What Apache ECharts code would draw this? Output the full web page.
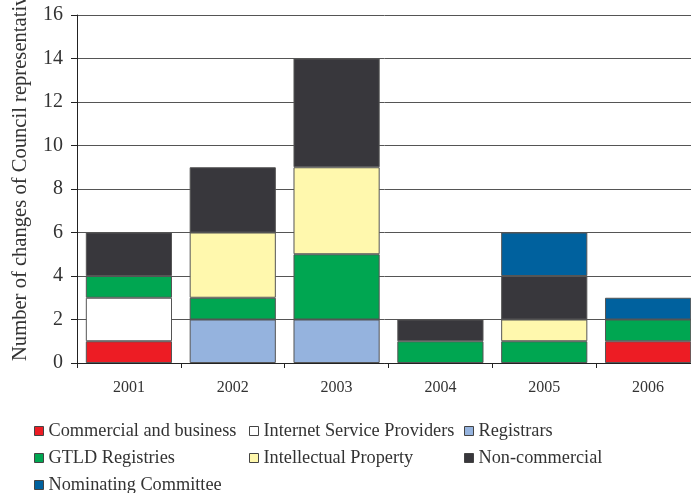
<!DOCTYPE html>
<html>
<head>
<meta charset="utf-8">
<script src="https://cdn.jsdelivr.net/npm/echarts@6/dist/echarts.min.js"></script>
<style>html,body{margin:0;padding:0;background:#fff}#c{width:691px;height:493px}</style>
</head>
<body>
<div id="c"></div>
<script>
var categories = ['2001', '2002', '2003', '2004', '2005', '2006'];
var yTicks = [0, 2, 4, 6, 8, 10, 12, 14, 16];
var seriesNames = ['Commercial and business', 'Internet Service Providers', 'Registrars', 'GTLD Registries', 'Intellectual Property', 'Non-commercial', 'Nominating Committee'];
var commercial = [1, 0, 0, 0, 0, 1];
var isp = [2, 0, 0, 0, 0, 0];
var registrars = [0, 2, 2, 0, 0, 0];
var gtld = [1, 1, 3, 1, 1, 1];
var intellectual = [0, 3, 4, 0, 1, 0];
var noncommercial = [2, 3, 5, 1, 2, 0];
var nominating = [0, 0, 0, 0, 2, 1];
var colors = ['#ED1C24', '#FFFFFF', '#95B3DE', '#00A651', '#FFF8AD', '#38373C', '#00619E'];

var values = [commercial, isp, registrars, gtld, intellectual, noncommercial, nominating];
var FONT = '"Liberation Serif", "Times New Roman", serif';
var TXT = '#333333';

var series = seriesNames.map(function (n, i) {
  return {
    name: n,
    type: 'bar',
    stack: 'total',
    barCategoryGap: '17%',
    data: values[i].map(function (v) { return v === 0 ? '-' : v; }),
    itemStyle: { color: colors[i], borderColor: '#555555', borderWidth: 1 },
    emphasis: { disabled: true }
  };
});

// legend layout: 3 columns x 3 rows
var colX = [34, 249, 464];
var rowY = [421, 448, 475];
var legends = seriesNames.map(function (n, i) {
  return {
    data: [n],
    left: colX[i % 3],
    top: rowY[Math.floor(i / 3)],
    padding: 0,
    itemWidth: 9,
    itemHeight: 9,
    icon: 'rect',
    itemStyle: { borderColor: '#444444', borderWidth: 1 },
    textStyle: { fontFamily: FONT, fontSize: 18.3, color: TXT, lineHeight: 20 },
    selectedMode: false
  };
});

var chart = echarts.init(document.getElementById('c'), null, { renderer: 'canvas' });
chart.setOption({
  animation: false,
  backgroundColor: '#ffffff',
  color: colors,
  grid: { left: 77, top: 15, width: 623, height: 348, containLabel: false, outerBoundsMode: 'none' },
  legend: legends,
  xAxis: {
    type: 'category',
    data: categories,
    axisLine: { show: true, lineStyle: { color: '#222222', width: 1 } },
    axisTick: { show: true, length: 5, alignWithLabel: false, interval: 0, lineStyle: { color: '#222222' } },
    axisLabel: { margin: 17, fontFamily: FONT, fontSize: 16, color: TXT, interval: 0 },
    splitLine: { show: false }
  },
  yAxis: {
    type: 'value',
    min: yTicks[0],
    max: yTicks[yTicks.length - 1],
    interval: yTicks[1] - yTicks[0],
    axisLine: { show: true, lineStyle: { color: '#222222', width: 1 } },
    axisTick: { show: true, length: 6, inside: false, lineStyle: { color: '#222222' } },
    axisLabel: { margin: 14, fontFamily: FONT, fontSize: 20, color: TXT },
    splitLine: { show: true, lineStyle: { color: '#555555', width: 1 } }
  },
  graphic: [{
    type: 'text',
    x: 21,
    y: 361,
    rotation: Math.PI / 2,
    silent: true,
    style: {
      text: 'Number of changes of Council representatives',
      font: '20.6px ' + FONT,
      fill: TXT,
      textAlign: 'left',
      textVerticalAlign: 'middle',
      align: 'left',
      verticalAlign: 'middle'
    }
  }],
  series: series
});
</script>
</body>
</html>
